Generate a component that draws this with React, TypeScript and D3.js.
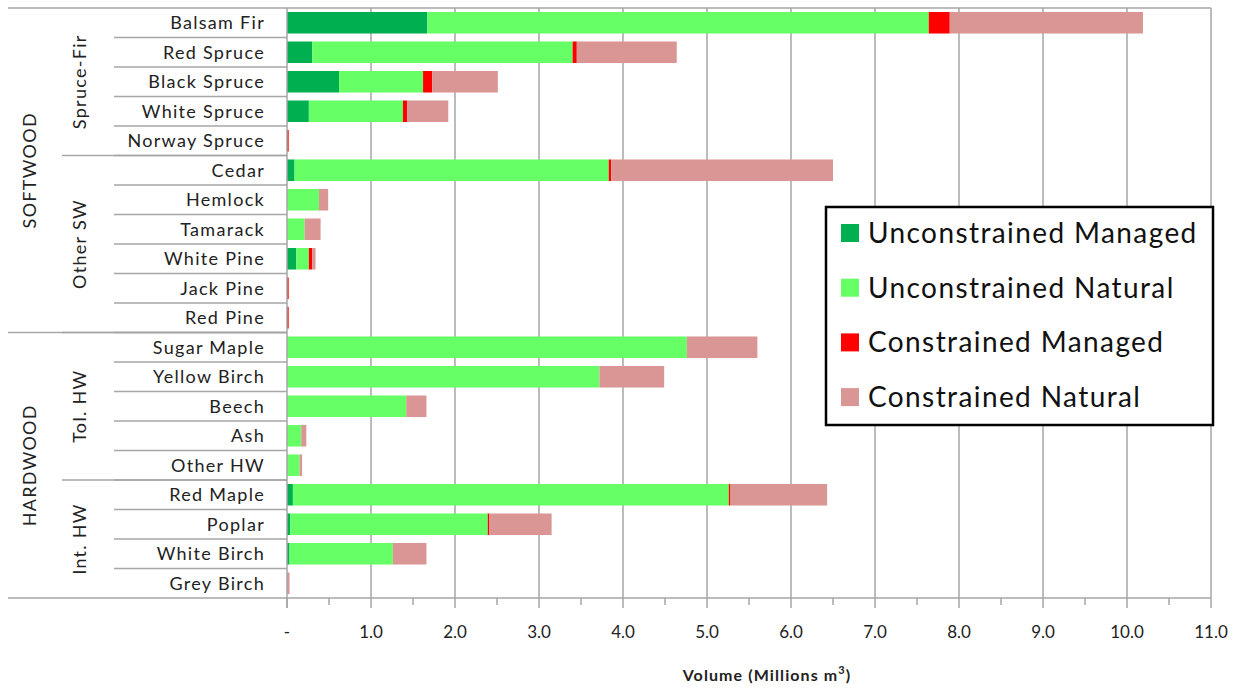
import React from 'react';
import * as d3 from 'd3';

// species, top to bottom
const species = ['Balsam Fir', 'Red Spruce', 'Black Spruce', 'White Spruce', 'Norway Spruce', 'Cedar', 'Hemlock', 'Tamarack', 'White Pine', 'Jack Pine', 'Red Pine', 'Sugar Maple', 'Yellow Birch', 'Beech', 'Ash', 'Other HW', 'Red Maple', 'Poplar', 'White Birch', 'Grey Birch'];
const seriesNames = ['Unconstrained Managed', 'Unconstrained Natural', 'Constrained Managed', 'Constrained Natural'];
const seriesColors = ['#00b050', '#66ff66', '#ff0000', '#da9694'];
// volumes, millions m3
const uncManaged = [1.67, 0.30, 0.62, 0.26, 0, 0.09, 0, 0, 0.11, 0, 0, 0, 0, 0, 0, 0, 0.07, 0.04, 0.03, 0];
const uncNatural = [5.97, 3.10, 1.00, 1.12, 0, 3.74, 0.38, 0.21, 0.15, 0, 0, 4.76, 3.72, 1.42, 0.17, 0.15, 5.19, 2.35, 1.23, 0];
const conManaged = [0.25, 0.05, 0.11, 0.05, 0.02, 0.03, 0, 0, 0.04, 0.02, 0.02, 0, 0, 0, 0, 0, 0.02, 0.02, 0, 0];
const conNatural = [2.30, 1.19, 0.78, 0.49, 0, 2.64, 0.11, 0.19, 0.04, 0, 0, 0.84, 0.77, 0.24, 0.06, 0.03, 1.15, 0.74, 0.40, 0.03];
const xTicks = [0, 1, 2, 3, 4, 5, 6, 7, 8, 9, 10, 11];
// [label, first row, last row]
const subGroups: [string, number, number][] = [['Spruce-Fir', 0, 4], ['Other SW', 5, 10], ['Tol. HW', 11, 15], ['Int. HW', 16, 19]];
const groups: [string, number, number][] = [['SOFTWOOD', 0, 10], ['HARDWOOD', 11, 19]];

const W = 1247;
const H = 688;
const left = 287;
const right = 1211;
const top = 8;
const bottom = 598;
const grid = '#a6a6a6';
const font = 'Lato, "Open Sans", sans-serif';

const App: React.FC = () => {
  const x = d3.scaleLinear().domain([0, 11]).range([left, right]);
  const y = d3.scaleBand<string>().domain(species).range([top, bottom]).paddingInner(0.27).paddingOuter(0.135);
  const step = y.step();
  const rowTop = (i: number) => top + i * step;

  const rows = species.map((s, i) => ({ s, k0: uncManaged[i], k1: uncNatural[i], k2: conManaged[i], k3: conNatural[i] }));
  const stack = d3.stack<any>().keys(['k0', 'k1', 'k2', 'k3']);
  const layers = stack(rows);
  const minorTicks = d3.range(0.5, 11, 1);

  return (
    <svg width={W} height={H} style={{ position: 'absolute', left: 0, top: 0, background: '#fff' }} fontFamily={font}>
      {/* grid lines */}
      {xTicks.slice(1).map(t => (
        <line key={'g' + t} x1={x(t)} x2={x(t)} y1={top} y2={bottom} stroke={grid} strokeWidth={1.5} />
      ))}
      <line x1={left} x2={right} y1={top} y2={top} stroke={grid} strokeWidth={1.5} />
      {/* bars */}
      {layers.map((layer, li) => (
        <g key={li} fill={seriesColors[li]}>
          {layer.map((d, i) => {
            const w = x(d[1]) - x(d[0]);
            if (w <= 0) return null;
            return <rect key={i} x={x(d[0])} y={y(species[i])} width={w} height={y.bandwidth()} />;
          })}
        </g>
      ))}
      {/* x axis */}
      <line x1={left} x2={right} y1={bottom} y2={bottom} stroke={grid} strokeWidth={1.5} />
      {xTicks.map(t => (
        <g key={'t' + t}>
          <line x1={x(t)} x2={x(t)} y1={bottom} y2={bottom + 10} stroke={grid} strokeWidth={1.5} />
          <text x={x(t)} y={638} textAnchor="middle" fontSize={17} fill="#222">{t === 0 ? '-' : t.toFixed(1)}</text>
        </g>
      ))}
      {minorTicks.map(t => (
        <line key={'m' + t} x1={x(t)} x2={x(t)} y1={bottom} y2={bottom + 7} stroke={grid} strokeWidth={1.5} />
      ))}
      <text x={767} y={681} textAnchor="middle" fontSize={16} letterSpacing={1.1} fontWeight="bold" fill="#222">
        Volume (Millions  m<tspan dy={-7} fontSize={11}>3</tspan><tspan dy={7}>)</tspan>
      </text>
      {/* category axis */}
      <line x1={left} x2={left} y1={top} y2={bottom + 10} stroke={grid} strokeWidth={1.5} />
      <line x1={8} x2={left} y1={top} y2={top} stroke={grid} strokeWidth={1.5} />
      <g fontSize={18} letterSpacing={1.3} fill="#222">
        {species.map((s, i) => (
          <g key={s}>
            {i > 0 && <line x1={114} x2={left} y1={rowTop(i)} y2={rowTop(i)} stroke={grid} strokeWidth={1.5} />}
            <text x={265} y={(y(s) as number) + y.bandwidth() / 2} dy="0.36em" textAnchor="end">{s}</text>
          </g>
        ))}
        {subGroups.map(([name, a, b]) => (
          <g key={name}>
            {a > 0 && <line x1={62} x2={left} y1={rowTop(a)} y2={rowTop(a)} stroke={grid} strokeWidth={1.5} />}
            <text transform={`translate(80,${(rowTop(a) + rowTop(b + 1)) / 2}) rotate(-90)`} textAnchor="middle" dy="0.36em">{name}</text>
          </g>
        ))}
        {groups.map(([name, a, b]) => (
          <g key={name}>
            <line x1={8} x2={left} y1={rowTop(b + 1)} y2={rowTop(b + 1)} stroke={grid} strokeWidth={1.5} />
            <text transform={`translate(30,${(rowTop(a) + rowTop(b + 1)) / 2}) rotate(-90)`} textAnchor="middle" dy="0.36em">{name}</text>
          </g>
        ))}
      </g>
      {/* legend */}
      <rect x={826} y={207} width={387} height={218} fill="#fff" stroke="#000" strokeWidth={2.5} />
      {seriesNames.map((n, i) => (
        <g key={n} transform={`translate(841,${233 + i * 54.7})`}>
          <rect x={0} y={-9} width={18} height={18} fill={seriesColors[i]} />
          <text x={27} y={0} dy="0.36em" fontSize={28} letterSpacing={1.4} fill="#111">{n}</text>
        </g>
      ))}
    </svg>
  );
};

export default App;
